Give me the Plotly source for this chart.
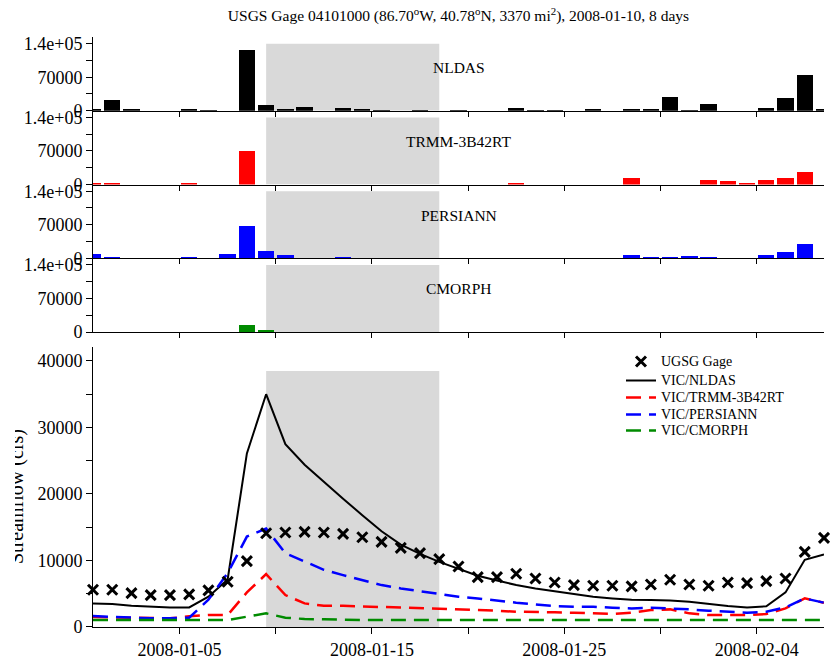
import pandas as pd
import plotly.graph_objects as go

# Daily series, 2008-01-01 .. 2008-02-08
dates = pd.date_range("2008-01-01", "2008-02-08", freq="D").strftime("%Y-%m-%d").tolist()

# Basin precipitation totals per product
precip_nldas = [2000, 23000, 3500, 0, 0, 2800, 1500, 0, 127000, 12600,
                4200, 8400, 0, 6300, 2100, 1500, 0, 1500, 0, 1500,
                0, 0, 4900, 1500, 1500, 0, 2800, 0, 2800, 2800,
                29300, 1500, 14000, 0, 0, 6300, 26500, 74700, 2800]
precip_trmm = [2100, 2100, 0, 0, 0, 2800, 0, 0, 71300, 0,
               0, 0, 0, 0, 0, 0, 0, 0, 0, 0,
               0, 0, 2800, 0, 0, 0, 0, 0, 14000, 0,
               0, 0, 9100, 7000, 2800, 10500, 14000, 27200, 0]
precip_persiann = [9100, 4200, 0, 0, 0, 4200, 0, 9100, 68500, 15400,
                   7000, 0, 0, 2100, 0, 0, 0, 0, 0, 0,
                   0, 0, 0, 0, 0, 0, 0, 0, 7000, 4200,
                   4200, 5600, 2100, 0, 0, 7000, 14700, 30000, 0]
precip_cmorph = [0, 0, 0, 0, 0, 0, 0, 0, 14700, 2800] + [0] * 29

# Streamflow (cfs)
gage = [5600, 5600, 5100, 4800, 4800, 4900, 5500, 6800, 9900, 14100,
        14200, 14300, 14200, 14000, 13500, 12800, 11900, 11100, 10200, 9100,
        7500, 7500, 8000, 7300, 6700, 6300, 6200, 6200, 6100, 6400,
        7100, 6400, 6200, 6700, 6600, 6900, 7300, 11300, 13400]
vic_nldas = [3550, 3450, 3200, 3050, 2950, 2950, 4550, 7150, 26100, 35000,
             27500, 24400, 21800, 19300, 16800, 14400, 12400, 11000, 9800, 8700,
             7700, 7000, 6300, 5800, 5400, 4950, 4550, 4300, 4100, 4050,
             4000, 3800, 3450, 3150, 2950, 3100, 5200, 10100, 10900]
vic_trmm = [1500, 1450, 1300, 1300, 1300, 1600, 1800, 1800, 5200, 7950,
            4800, 3550, 3200, 3200, 3050, 3000, 2950, 2850, 2800, 2650,
            2650, 2450, 2300, 2200, 2200, 2150, 2050, 1950, 2150, 2550,
            2650, 2050, 1800, 1800, 1800, 1950, 2800, 4300, 3650]
vic_persiann = [1650, 1550, 1350, 1300, 1300, 1400, 4100, 8100, 13600, 14800,
                11100, 9800, 8600, 7800, 7100, 6300, 5800, 5400, 5000, 4550,
                4300, 3950, 3650, 3400, 3150, 3050, 3050, 2900, 2800, 2900,
                2800, 2650, 2450, 2300, 2150, 2300, 2950, 4300, 3650]
vic_cmorph = [1050, 1050, 1050, 1050, 1050, 1050, 1050, 1050, 1550, 2050,
              1400, 1200, 1150] + [1050] * 26

panel_names = ["NLDAS", "TRMM-3B42RT", "PERSIANN", "CMORPH"]
panel_precip = [precip_nldas, precip_trmm, precip_persiann, precip_cmorph]
panel_colors = ["black", "#ff0000", "#0000ff", "#008b00"]

event_start, event_end = "2008-01-10", "2008-01-19"
tick_dates = ["2008-01-05", "2008-01-10", "2008-01-15", "2008-01-20",
              "2008-01-25", "2008-01-30", "2008-02-04"]
tick_labels = ["2008-01-05", "", "2008-01-15", "", "2008-01-25", "", "2008-02-04"]
tick_pos = [d + " 12:00" for d in tick_dates]

FONT = "Liberation Serif"
DAY_MS = 86400000
x_range = ["2008-01-01", "2008-02-08"]

# page geometry (px)
W, H = 834, 660
ML, MR, MT, MB = 93, 10, 37, 33
PW, PH = W - ML - MR, H - MT - MB


def paper_y(px):
    return 1 - (px - MT) / PH


def legend_label(s):
    return '<span style="font-size:14px">' + s + "</span>"


fig = go.Figure()

# precipitation panels, top to bottom
panel_domains = [[0.875, 1.0], [0.75, 0.875], [0.625, 0.75], [0.5, 0.625]]
for k, (name, vals, col) in enumerate(zip(panel_names, panel_precip, panel_colors)):
    ax = str(k + 2)
    fig.add_trace(go.Bar(x=dates, y=vals, width=0.85 * DAY_MS,
                         marker=dict(color=col, line=dict(width=0)),
                         xaxis="x" + ax, yaxis="y" + ax, showlegend=False))
    fig.add_shape(type="rect", xref="x" + ax, yref="y" + ax,
                  x0=event_start, x1=event_end, y0=0, y1=140000,
                  fillcolor="#d9d9d9", line=dict(width=0), layer="below")
    fig.add_annotation(text=name, xref="x" + ax, yref="y" + ax,
                       x="2008-01-20", y=90000, showarrow=False,
                       font=dict(family=FONT, size=15.5, color="black"))
    fig.update_layout(**{
        "xaxis" + ax: dict(domain=[0, 1], anchor="y" + ax, type="date", range=x_range,
                           showline=True, linecolor="black", linewidth=1,
                           ticks="outside", ticklen=5, tickcolor="black",
                           tickvals=tick_pos, showticklabels=False,
                           showgrid=False, zeroline=False, automargin=False),
        "yaxis" + ax: dict(domain=panel_domains[k], anchor="x" + ax, range=[0, 154000],
                           showline=True, linecolor="black", linewidth=1,
                           ticks="outside", ticklen=6, tickcolor="black",
                           tickvals=[0, 35000, 70000, 105000, 140000],
                           ticktext=["0", "", "70000", "", "1.4e+05"],
                           tickfont=dict(family=FONT, size=18, color="black"),
                           showgrid=False, zeroline=False, automargin=False),
    })

# streamflow panel
fig.add_shape(type="rect", xref="x", yref="y", x0=event_start, x1=event_end,
              y0=0, y1=38500, fillcolor="#d9d9d9", line=dict(width=0), layer="below")

dash = "15px,8px"
fig.add_trace(go.Scatter(x=dates, y=vic_nldas, mode="lines", name=legend_label("VIC/NLDAS"),
                         line=dict(color="black", width=2), legend="legend2"))
fig.add_trace(go.Scatter(x=dates, y=vic_trmm, mode="lines", name=legend_label("VIC/TRMM-3B42RT"),
                         line=dict(color="#ff0000", width=2.5, dash=dash), legend="legend3"))
fig.add_trace(go.Scatter(x=dates, y=vic_persiann, mode="lines", name=legend_label("VIC/PERSIANN"),
                         line=dict(color="#0000ff", width=2.5, dash=dash), legend="legend4"))
fig.add_trace(go.Scatter(x=dates, y=vic_cmorph, mode="lines", name=legend_label("VIC/CMORPH"),
                         line=dict(color="#008b00", width=2.5, dash=dash), legend="legend5"))
fig.add_trace(go.Scatter(x=dates, y=gage, mode="markers", name=legend_label("UGSG Gage"),
                         marker=dict(symbol="x-thin", size=10, color="black",
                                     line=dict(width=3, color="black")),
                         cliponaxis=False, legend="legend"))

# y-axis title, partly cut at the left page edge
fig.add_annotation(text="Streamflow (cfs)", xref="paper", yref="paper",
                   x=-0.1053, y=0.2203, textangle=-90, showarrow=False,
                   xanchor="center", yanchor="middle",
                   font=dict(family=FONT, size=20, color="black"))
fig.add_annotation(text="", xref="paper", yref="paper",
                   x=-ML / PW, y=0.2203, xanchor="left", yanchor="middle",
                   width=15, height=190, bgcolor="white", showarrow=False,
                   borderpad=0, borderwidth=0)

# one legend box per entry so the rows sit tightly stacked
legend_rows = [361, 380, 397, 414, 430]
legend_keys = ["legend", "legend2", "legend3", "legend4", "legend5"]
legend_x = (621 - ML) / PW
for key, row in zip(legend_keys, legend_rows):
    fig.update_layout(**{key: dict(x=legend_x, y=paper_y(row - 14), xanchor="left", yanchor="top",
                                   bgcolor="rgba(0,0,0,0)", borderwidth=0,
                                   font=dict(family=FONT, size=11, color="black"),
                                   tracegroupgap=0)})

fig.update_layout(
    width=W, height=H,
    margin=dict(l=ML, r=MR, t=MT, b=MB),
    paper_bgcolor="white", plot_bgcolor="white",
    font=dict(family=FONT, color="black"),
    title=dict(text="USGS Gage 04101000 (86.70<sup>o</sup>W, 40.78<sup>o</sup>N, 3370 mi<sup>2</sup>), 2008-01-10, 8 days",
               x=0.5, xref="paper", xanchor="center", y=1 - 16 / H, yanchor="middle",
               font=dict(family=FONT, size=15.5, color="black")),
    xaxis=dict(domain=[0, 1], anchor="y", type="date", range=x_range,
               showline=True, linecolor="black", linewidth=1,
               ticks="outside", ticklen=6, tickcolor="black",
               tickvals=tick_pos, ticktext=tick_labels,
               tickfont=dict(family=FONT, size=18, color="black"),
               showgrid=False, zeroline=False, automargin=False),
    yaxis=dict(domain=[0, 0.4746], anchor="x", range=[0, 42100],
               showline=True, linecolor="black", linewidth=1,
               ticks="outside", ticklen=6, tickcolor="black",
               tickvals=[0, 5000, 10000, 15000, 20000, 25000, 30000, 35000, 40000],
               ticktext=["0", "", "10000", "", "20000", "", "30000", "", "40000"],
               tickfont=dict(family=FONT, size=18, color="black"),
               showgrid=False, zeroline=False, automargin=False),
    bargap=0,
    showlegend=True,
)

fig.write_html("out.html")
